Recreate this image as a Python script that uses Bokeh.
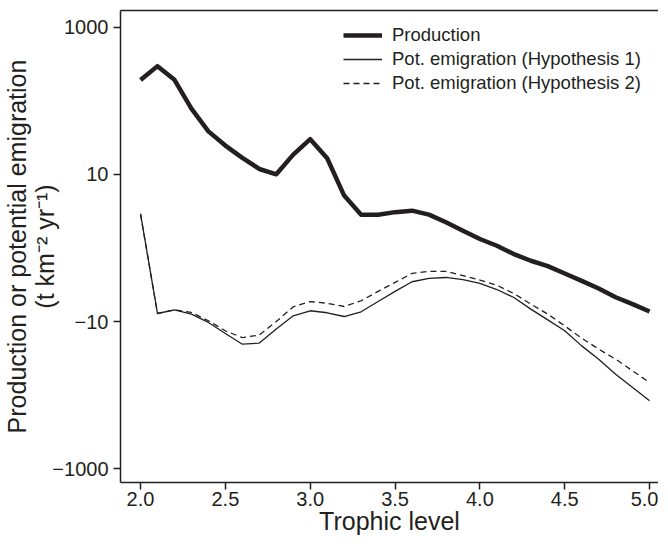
import numpy as np
from bokeh.plotting import figure
from bokeh.models import Range1d, FixedTicker, Legend, LegendItem, LinearAxis
from bokeh.embed import file_html
from bokeh.resources import INLINE

trophic_level = [2.0, 2.1, 2.2, 2.3, 2.4, 2.5, 2.6, 2.7, 2.8, 2.9, 3.0,
                 3.1, 3.2, 3.3, 3.4, 3.5, 3.6, 3.7, 3.8, 3.9, 4.0,
                 4.1, 4.2, 4.3, 4.4, 4.5, 4.6, 4.7, 4.8, 4.9, 5.0]

production = [193, 298, 194, 78.5, 38.6, 24.7, 16.8, 11.8, 9.97, 18.6, 30.2,
              16.6, 4.97, 2.49, 2.49, 2.75, 2.91, 2.49, 1.79, 1.14, 0.57,
              0.14, -0.38, -0.82, -1.2, -1.77, -2.44, -3.27, -4.46, -5.62, -7.17]

emig_h1 = [2.56, -7.65, -6.79, -7.8, -10.2, -14.5, -20.3, -19.6, -12.6, -8.24, -7.0,
           -7.47, -8.43, -7.24, -5.16, -3.64, -2.53, -2.21, -2.12, -2.33, -2.70,
           -3.40, -4.50, -6.63, -9.38, -13.3, -21.4, -32.5, -52.1, -79.2, -120]

emig_h2 = [2.56, -7.65, -6.79, -7.4, -9.67, -13.3, -16.5, -15.2, -9.9, -6.15, -5.16,
           -5.47, -6.09, -5.03, -3.64, -2.60, -1.77, -1.60, -1.60, -1.96, -2.36,
           -2.90, -3.92, -5.62, -7.80, -11.4, -16.8, -23.7, -32.5, -46.9, -67.7]

y_tick_values = [1000, 10, -10, -1000]
y_tick_labels = ["1000", "10", "\u221210", "\u22121000"]
x_tick_values = [2.0, 2.5, 3.0, 3.5, 4.0, 4.5, 5.0]
x_tick_labels = ["2.0", "2.5", "3.0", "3.5", "4.0", "4.5", "5.0"]


def T(v):
    return np.arcsinh(np.asarray(v, dtype=float) / 2.0) / np.log(10.0)


INK = "#231f20"
FONT = "Liberation Sans"

p = figure(frame_width=538, frame_height=472, output_backend="svg",
           toolbar_location=None,
           x_range=Range1d(1.882, 5.0525), y_range=Range1d(-3.19, 3.231),
           min_border_left=114, min_border_right=0, min_border_top=10,
           min_border_bottom=58)
p.grid.visible = False
p.background_fill_color = "white"
p.border_fill_color = "white"
p.outline_line_color = None

r_prod = p.line(trophic_level, T(production), line_color=INK, line_width=4.5,
                line_join="round")
r_h1 = p.line(trophic_level, T(emig_h1), line_color=INK, line_width=1.3)
r_h2 = p.line(trophic_level, T(emig_h2), line_color=INK, line_width=1.3,
              line_dash="6 4")

# top frame line (no right border in the reference)
top_axis = LinearAxis(ticker=FixedTicker(ticks=[]), axis_line_color=INK,
                      axis_line_width=1.5, major_tick_out=0, major_tick_in=0,
                      minor_tick_line_color=None, major_label_standoff=0)
p.add_layout(top_axis, "above")

xax = p.below[0]
yax = p.left[0]
xax.ticker = FixedTicker(ticks=x_tick_values)
xax.major_label_overrides = {v: s for v, s in zip(x_tick_values, x_tick_labels)}
yax.ticker = FixedTicker(ticks=list(T(y_tick_values)))
yax.major_label_overrides = {float(t): s for t, s in zip(T(y_tick_values), y_tick_labels)}

for ax in (xax, yax):
    ax.axis_line_color = INK
    ax.axis_line_width = 1.5
    ax.major_tick_line_color = INK
    ax.major_tick_line_width = 1.5
    ax.major_tick_out = 7
    ax.major_tick_in = 0
    ax.minor_tick_line_color = None
    ax.major_label_text_font = FONT
    ax.major_label_text_font_size = "20px"
    ax.major_label_text_color = INK
    ax.axis_label_text_font = FONT
    ax.axis_label_text_font_size = "25px"
    ax.axis_label_text_font_style = "normal"
    ax.axis_label_text_color = INK

xax.major_label_standoff = 2
xax.axis_label = "Trophic level"
xax.axis_label_standoff = -2
yax.major_label_standoff = 5
yax.axis_label = "Production or potential emigration\n(t km\u207b\u00b2 yr\u207b\u00b9)"
yax.axis_label_text_line_height = 1.0
yax.axis_label_standoff = -10

legend = Legend(items=[
    LegendItem(label="Production", renderers=[r_prod]),
    LegendItem(label="Pot. emigration (Hypothesis 1)", renderers=[r_h1]),
    LegendItem(label="Pot. emigration (Hypothesis 2)", renderers=[r_h2]),
], location=(223, 387))
legend.border_line_color = None
legend.background_fill_alpha = 0
legend.padding = 0
legend.margin = 0
legend.spacing = 0
legend.glyph_width = 39
legend.glyph_height = 24
legend.label_height = 24
legend.label_standoff = 10
legend.label_text_font = FONT
legend.label_text_font_size = "18.5px"
legend.label_text_color = INK
p.add_layout(legend)

open("out.html", "w").write(file_html(p, INLINE))
